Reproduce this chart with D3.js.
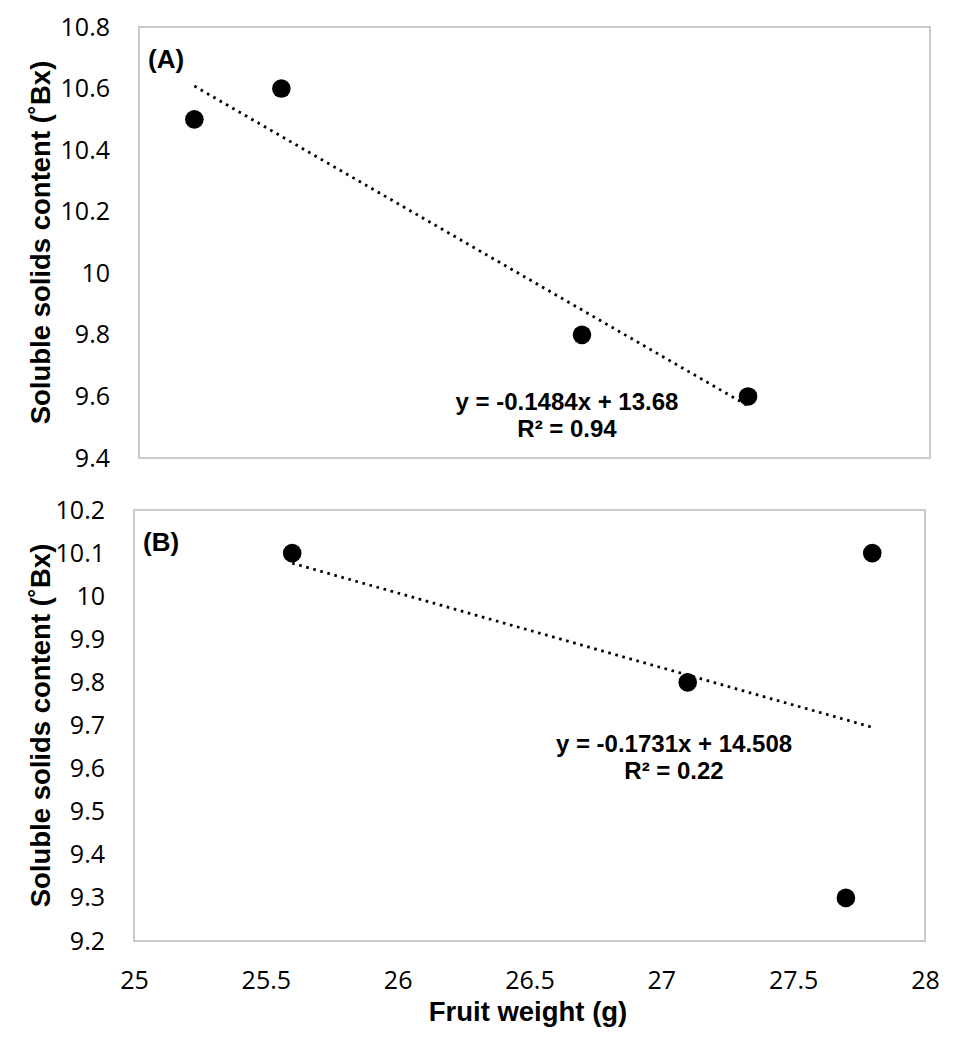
<!DOCTYPE html>
<html>
<head>
<meta charset="utf-8">
<script src="https://cdn.jsdelivr.net/npm/d3@7.9.0/dist/d3.min.js"></script>
<style>
  body { margin: 0; background: #fff; }
  .tick text { font-family: "Open Sans", sans-serif; font-size: 25px; fill: #000; }
  .title { font-family: "Liberation Sans", Arial, sans-serif; font-weight: bold; font-size: 27.5px; fill: #000; }
  .eq { font-family: "Liberation Sans", Arial, sans-serif; font-weight: bold; font-size: 24px; fill: #000; }
  .panel { font-family: "Liberation Sans", Arial, sans-serif; font-weight: bold; font-size: 26px; fill: #000; }
</style>
</head>
<body>
<svg width="956" height="1055"></svg>
<script>
// panel A
const weightA = [20.7, 21.8, 25.6, 27.7];
const solidsA = [10.5, 10.6, 9.8, 9.6];
const fitA = { slope: -0.1484, intercept: 13.68, eq: 'y = -0.1484x + 13.68', r2: 'R² = 0.94' };
const yTicksA = [9.4, 9.6, 9.8, 10, 10.2, 10.4, 10.6, 10.8];

// panel B
const weightB = [25.6, 27.1, 27.8, 27.7];
const solidsB = [10.1, 9.8, 10.1, 9.3];
const fitB = { slope: -0.1731, intercept: 14.508, eq: 'y = -0.1731x + 14.508', r2: 'R² = 0.22' };
const yTicksB = [9.2, 9.3, 9.4, 9.5, 9.6, 9.7, 9.8, 9.9, 10, 10.1, 10.2];
const xTicksB = [25, 25.5, 26, 26.5, 27, 27.5, 28];

const svg = d3.select('svg');
const fmt = d3.format('.1~f');

function drawPanel(opts) {
  const { x, y, xs, ys, fit, yTicks, label, eqPos, showX } = opts;
  const [x0, x1] = x.range();
  const [y0, y1] = y.range();

  // box
  svg.append('rect')
    .attr('x', x0).attr('y', y1)
    .attr('width', x1 - x0).attr('height', y0 - y1)
    .attr('fill', 'none').attr('stroke', '#cbcbcb').attr('stroke-width', 2);

  const gy = svg.append('g')
    .attr('transform', `translate(${x0},0)`)
    .call(d3.axisLeft(y).tickValues(yTicks).tickSize(0).tickPadding(29).tickFormat(fmt));
  gy.select('.domain').remove();

  if (showX) {
    const gx = svg.append('g')
      .attr('transform', `translate(0,${y0})`)
      .call(d3.axisBottom(x).tickValues(xTicksB).tickSize(0).tickPadding(30).tickFormat(fmt));
    gx.select('.domain').remove();
  }

  // trendline
  const xmin = d3.min(xs), xmax = d3.max(xs);
  svg.append('line')
    .attr('x1', x(xmin)).attr('y1', y(fit.slope * xmin + fit.intercept))
    .attr('x2', x(xmax)).attr('y2', y(fit.slope * xmax + fit.intercept))
    .attr('stroke', '#000').attr('stroke-width', 2.8)
    .attr('stroke-dasharray', '2.6 4.7');

  svg.append('g').selectAll('circle')
    .data(xs.map((d, i) => [d, ys[i]]))
    .join('circle')
    .attr('cx', d => x(d[0])).attr('cy', d => y(d[1]))
    .attr('r', 9.3).attr('fill', '#000');

  svg.append('text').attr('class', 'panel')
    .attr('x', x0 + 9).attr('y', y1 + 41)
    .text(label);

  const t = svg.append('text').attr('class', 'eq').attr('text-anchor', 'middle');
  t.append('tspan').attr('x', eqPos[0]).attr('y', eqPos[1]).text(fit.eq);
  t.append('tspan').attr('x', eqPos[0]).attr('y', eqPos[1] + 27).text(fit.r2);

  svg.append('text').attr('class', 'title')
    .attr('text-anchor', 'middle')
    .attr('transform', `translate(50,${(y0 + y1) / 2}) rotate(-90)`)
    .text('Soluble solids content (˚Bx)');
}

drawPanel({
  x: d3.scaleLinear().domain([20, 30]).range([139, 930]),
  y: d3.scaleLinear().domain([9.4, 10.8]).range([458, 27]),
  xs: weightA, ys: solidsA, fit: fitA, yTicks: yTicksA,
  label: '(A)', eqPos: [567, 410], showX: false
});

drawPanel({
  x: d3.scaleLinear().domain([25, 28]).range([134, 925]),
  y: d3.scaleLinear().domain([9.2, 10.2]).range([941, 510]),
  xs: weightB, ys: solidsB, fit: fitB, yTicks: yTicksB,
  label: '(B)', eqPos: [674, 752], showX: true
});

svg.append('text').attr('class', 'title')
  .attr('text-anchor', 'middle')
  .attr('x', 528).attr('y', 1021)
  .text('Fruit weight (g)');
</script>
</body>
</html>
